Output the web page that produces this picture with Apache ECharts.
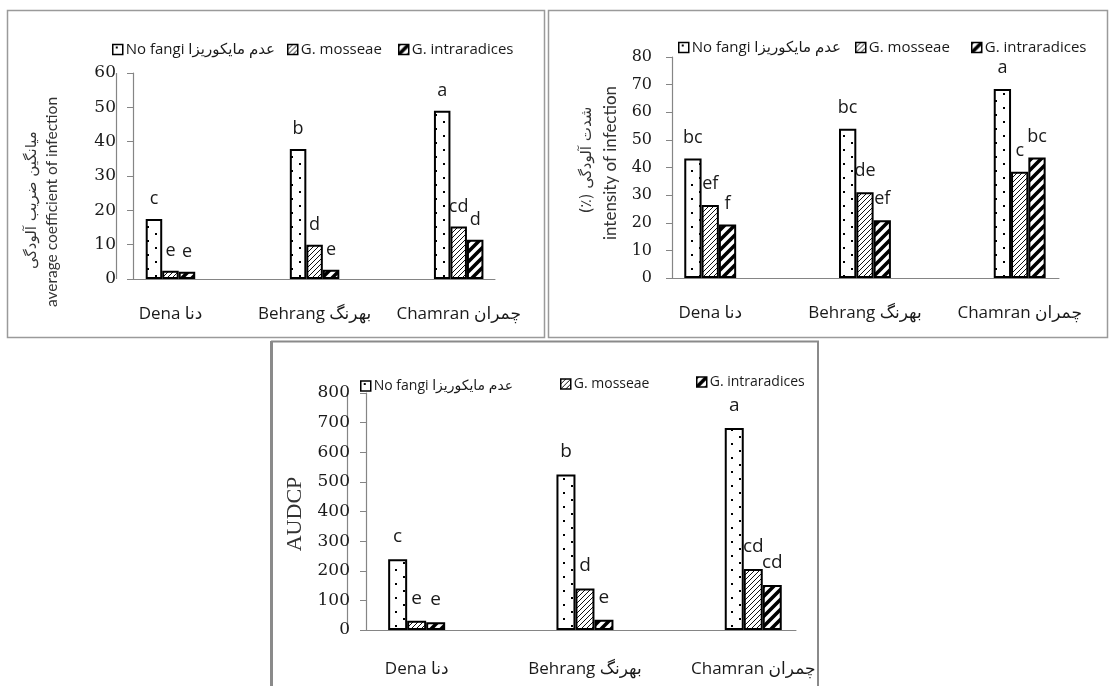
<!DOCTYPE html>
<html>
<head>
<meta charset="utf-8">
<script src="https://cdn.jsdelivr.net/npm/echarts@6/dist/echarts.min.js"></script>
<style>
html,body{margin:0;padding:0;background:#fff;}
#chart{width:1109px;height:686px;}
</style>
</head>
<body>
<div id="chart"></div>
<script>
// ---- data ----
const categories = ['Dena دنا', 'Behrang بهرنگ', 'Chamran چمران'];
const seriesNames = ['No fangi عدم مایکوریزا', 'G. mosseae', 'G. intraradices'];

// panel 1: average coefficient of infection
const coefNoFungi = [17.5, 37.9, 49.0];
const coefMosseae = [2.4, 10.0, 15.3];
const coefIntra = [2.1, 2.7, 11.4];
const coefLettersNoFungi = ['c', 'b', 'a'];
const coefLettersMosseae = ['e', 'd', 'cd'];
const coefLettersIntra = ['e', 'e', 'd'];
const coefTicks = [0, 60, 10];

// panel 2: intensity of infection (%)
const intNoFungi = [43.3, 54.0, 68.4];
const intMosseae = [26.4, 31.0, 38.5];
const intIntra = [19.4, 20.9, 43.6];
const intLettersNoFungi = ['bc', 'bc', 'a'];
const intLettersMosseae = ['ef', 'de', 'c'];
const intLettersIntra = ['f', 'ef', 'bc'];
const intTicks = [0, 80, 10];

// panel 3: AUDCP
const audNoFungi = [239, 525, 682];
const audMosseae = [31, 140, 206];
const audIntra = [26, 35, 152];
const audLettersNoFungi = ['c', 'b', 'a'];
const audLettersMosseae = ['e', 'd', 'cd'];
const audLettersIntra = ['e', 'e', 'cd'];
const audTicks = [0, 800, 100];

const panelValues = [
  [coefNoFungi, coefMosseae, coefIntra],
  [intNoFungi, intMosseae, intIntra],
  [audNoFungi, audMosseae, audIntra]
];
const panelLetters = [
  [coefLettersNoFungi, coefLettersMosseae, coefLettersIntra],
  [intLettersNoFungi, intLettersMosseae, intLettersIntra],
  [audLettersNoFungi, audLettersMosseae, audLettersIntra]
];
const panelTicks = [coefTicks, intTicks, audTicks];

// ---- patterns ----
function pattern(kind) {
  const c = document.createElement('canvas');
  const g = c.getContext('2d');
  if (kind === 0) {
    c.width = 16; c.height = 14;
    g.fillStyle = '#fff'; g.fillRect(0, 0, 16, 14);
    g.fillStyle = '#000';
    g.fillRect(3, 2, 2, 2);
    g.fillRect(11, 9, 2, 2);
  } else if (kind === 1) {
    c.width = 5; c.height = 5;
    g.fillStyle = '#fff'; g.fillRect(0, 0, 5, 5);
    g.strokeStyle = '#111'; g.lineWidth = 1;
    g.beginPath();
    g.moveTo(-1, 6); g.lineTo(6, -1);
    g.moveTo(-1, 1); g.lineTo(1, -1);
    g.moveTo(4, 6); g.lineTo(6, 4);
    g.stroke();
  } else {
    c.width = 10; c.height = 10;
    g.fillStyle = '#fff'; g.fillRect(0, 0, 10, 10);
    g.strokeStyle = '#000'; g.lineWidth = 3.6;
    g.beginPath();
    g.moveTo(-2, 12); g.lineTo(12, -2);
    g.moveTo(-3, 3); g.lineTo(3, -3);
    g.moveTo(7, 13); g.lineTo(13, 7);
    g.stroke();
  }
  return { image: c, repeat: 'repeat' };
}
const fills = [pattern(0), pattern(1), pattern(2)];

// ---- layout ----
const SANS = "'Open Sans', 'DejaVu Sans', sans-serif";
const SERIF = "'DejaVu Serif', serif";
const grids = [
  { left: 133, top: 73, width: 362, height: 206 },
  { left: 672, top: 57, width: 387, height: 221 },
  { left: 366, top: 393, width: 430, height: 237 }
];
// category k sits at x = k + 1 on each value x axis
const xRange = [[0.74, 3.252], [0.753, 3.254], [0.699, 3.254]];
const barW = [16.5, 17.3, 19];
const yLabelSize = [17, 16, 17];
const yLabelMargin = [17, 20, 16];
const xLabelMargin = [27, 27, 31];
const letterSize = [18, 18, 19];
const letterDist = [11, 12, 13];
const axisGray = '#858585';

const xAxes = [], yAxes = [], series = [];
for (let p = 0; p < 3; p++) {
  xAxes.push({
    type: 'value', gridIndex: p, position: 'bottom', z: 5,
    min: xRange[p][0], max: xRange[p][1],
    splitLine: { show: false },
    axisLine: { show: true, lineStyle: { color: axisGray, width: 1 } },
    axisTick: { show: false },
    axisLabel: {
      customValues: [1, 2, 3],
      formatter: v => categories[Math.round(v) - 1],
      fontFamily: SANS, fontSize: 17, color: '#1a1a1a', margin: xLabelMargin[p]
    }
  });
  yAxes.push({
    type: 'value', gridIndex: p, position: 'left', z: 5,
    min: panelTicks[p][0], max: panelTicks[p][1], interval: panelTicks[p][2],
    splitLine: { show: false },
    axisLine: { show: true, lineStyle: { color: axisGray, width: 1.2 } },
    axisTick: { show: true, inside: false, length: 6, lineStyle: { color: axisGray, width: 1 } },
    axisLabel: { fontFamily: SERIF, fontSize: yLabelSize[p], color: '#1a1a1a', margin: yLabelMargin[p] }
  });
  for (let s = 0; s < 3; s++) {
    const letters = panelLetters[p][s];
    const ser = {
      type: 'bar', name: seriesNames[s], xAxisIndex: p, yAxisIndex: p,
      data: panelValues[p][s].map((v, i) => [i + 1, v]),
      barWidth: barW[p], barGap: '0%',
      itemStyle: { color: fills[s], borderColor: '#000', borderWidth: 2 },
      label: {
        show: true, position: 'top', distance: letterDist[p],
        formatter: prm => letters[prm.dataIndex],
        fontFamily: SANS, fontSize: letterSize[p], color: '#1a1a1a'
      },
      emphasis: { disabled: true },
      animation: false
    };
    if (s === 0) {
      // vertical value-axis line at the left edge of the plot, placed through the x scale
      ser.markLine = {
        silent: true, symbol: ['none', 'none'], animation: false,
        label: { show: false },
        lineStyle: { color: axisGray, width: 1.2, type: 'solid' },
        emphasis: { disabled: true },
        data: [{ xAxis: xRange[p][0] }]
      };
    }
    series.push(ser);
  }
}

// legends: one per item for exact placement
const legendPos = [
  [[107, 37], [282, 37], [393, 37]],
  [[673, 35], [850, 35], [966, 35]],
  [[355, 374], [555, 372], [691, 370]]
];
const legendFont = [15, 15, 14];
const legends = [];
for (let p = 0; p < 3; p++) {
  for (let s = 0; s < 3; s++) {
    legends.push({
      data: [seriesNames[s]], left: legendPos[p][s][0], top: legendPos[p][s][1],
      icon: 'rect', itemWidth: 10, itemHeight: 10, selectedMode: false,
      textStyle: { fontFamily: SANS, fontSize: legendFont[p], color: '#1a1a1a', padding: [0, 0, 0, -2] },
      itemStyle: { borderColor: '#000', borderWidth: 1.5 }
    });
  }
}

function vText(txt, x, y, font) {
  return {
    type: 'text', x: x, y: y, rotation: Math.PI / 2, silent: true,
    style: { text: txt, font: font, fill: '#333', align: 'center', verticalAlign: 'middle' }
  };
}

const graphic = [
  { type: 'rect', shape: { x: 7.5, y: 10.5, width: 537, height: 327 }, style: { fill: 'none', stroke: '#9a9a9a', lineWidth: 1.5 }, silent: true },
  { type: 'rect', shape: { x: 548.5, y: 10.5, width: 559, height: 327 }, style: { fill: 'none', stroke: '#9a9a9a', lineWidth: 1.5 }, silent: true },
  { type: 'rect', shape: { x: 272, y: 341.5, width: 546, height: 360 }, style: { fill: 'none', stroke: '#8a8a8a', lineWidth: 2 }, silent: true },
  { type: 'line', shape: { x1: 271.5, y1: 341, x2: 271.5, y2: 686 }, style: { stroke: '#8a8a8a', lineWidth: 3 }, silent: true },
  vText('میانگین ضریب آلودگی', 32, 200, "15px 'DejaVu Sans', sans-serif"),
  vText('average coefficient of infection', 52, 202, "15.5px Lato, 'Open Sans', sans-serif"),
  vText('(٪) شدت آلودگی', 587, 160, "15px 'DejaVu Sans', sans-serif"),
  vText('intensity of infection', 611, 163, "17px Lato, 'Open Sans', sans-serif"),
  vText('AUDCP', 295, 514, "22px 'Liberation Serif', serif")
];

const chart = echarts.init(document.getElementById('chart'), null, { renderer: 'canvas' });
chart.setOption({
  backgroundColor: '#fff',
  animation: false,
  grid: grids,
  xAxis: xAxes,
  yAxis: yAxes,
  legend: legends,
  series: series,
  graphic: graphic
});
</script>
</body>
</html>
